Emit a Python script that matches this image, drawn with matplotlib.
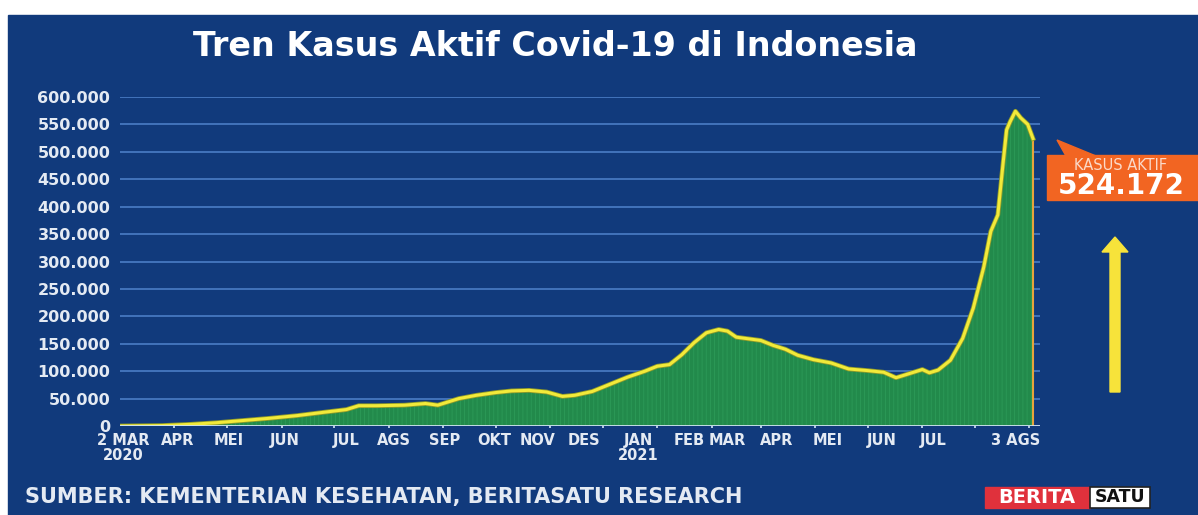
import numpy as np
import pandas as pd
import matplotlib
matplotlib.use("Agg")
import matplotlib.pyplot as plt
import matplotlib.patheffects as pe
from matplotlib.patches import Rectangle, Polygon

# active cases
dates = pd.to_datetime([
    "2020-03-02", "2020-03-25", "2020-04-10", "2020-04-25", "2020-05-10", "2020-05-25",
    "2020-06-10", "2020-06-25", "2020-07-08", "2020-07-15", "2020-07-25", "2020-08-10",
    "2020-08-22", "2020-08-29", "2020-09-10", "2020-09-20", "2020-10-01", "2020-10-10",
    "2020-10-20", "2020-10-30", "2020-11-08", "2020-11-15", "2020-11-25", "2020-12-05",
    "2020-12-15", "2020-12-25", "2021-01-01", "2021-01-08", "2021-01-15", "2021-01-22",
    "2021-01-29", "2021-02-05", "2021-02-10", "2021-02-15", "2021-02-22", "2021-03-01",
    "2021-03-08", "2021-03-15", "2021-03-22", "2021-03-31", "2021-04-10", "2021-04-20",
    "2021-05-01", "2021-05-10", "2021-05-17", "2021-05-24", "2021-06-01", "2021-06-05",
    "2021-06-10", "2021-06-17", "2021-06-24", "2021-06-30", "2021-07-06", "2021-07-10",
    "2021-07-14", "2021-07-17", "2021-07-19", "2021-07-21", "2021-07-24", "2021-07-27",
    "2021-07-31", "2021-08-03",
])
aktif = [
    0, 800, 3000, 6000, 10000, 14000,
    19000, 25000, 30000, 37000, 37000, 38000,
    41000, 38000, 50000, 56000, 61000, 64000,
    65000, 62000, 54000, 56000, 63000, 76000,
    89000, 100000, 109000, 112000, 130000, 152000,
    170000, 176000, 173000, 162000, 159000, 156000,
    147000, 140000, 129000, 121000, 115000, 104000,
    101000, 98000, 88000, 95000, 103000, 97000,
    102000, 120000, 160000, 215000, 290000, 355000,
    385000, 480000, 540000, 555000, 574000, 562000,
    550000, 524172,
]

month_starts = pd.date_range("2020-04-01", "2021-08-01", freq="MS")
label_dates = pd.to_datetime([
    "2020-03-03", "2020-04-03", "2020-05-02", "2020-06-03", "2020-07-08", "2020-08-04",
    "2020-09-02", "2020-09-30", "2020-10-25", "2020-11-20", "2020-12-21", "2021-01-19",
    "2021-02-10", "2021-03-10", "2021-04-08", "2021-05-09", "2021-06-07", "2021-07-24",
])
label_text = ["2 MAR\n2020", "APR", "MEI", "JUN", "JUL", "AGS", "SEP", "OKT", "NOV", "DES",
              "JAN\n2021", "FEB", "MAR", "APR", "MEI", "JUN", "JUL", "3 AGS"]
y_ticks = list(range(0, 600001, 50000))

BG = "#113a7c"
TXT = "#e4eaf3"
W, H = 1198, 515


def fx(px):
    return px / W


def fy(py):
    return 1 - py / H


plt.rcParams["hatch.linewidth"] = 0.6
fig = plt.figure(figsize=(W / 100, H / 100), dpi=100)
fig.patch.set_facecolor("white")
fig.add_artist(Rectangle((fx(8), 0), 1, fy(15), transform=fig.transFigure,
                         color=BG, zorder=-10))

ax = fig.add_axes([fx(120), fy(426), fx(920), 329 / H])
ax.set_facecolor("none")
for s in ax.spines.values():
    s.set_visible(False)

ax.fill_between(dates, aktif, color="#228a4b", edgecolor="#2c9a58", hatch="||||",
                linewidth=0, zorder=2)
ax.plot(dates, aktif, color="#f2ea3a", lw=2.2, zorder=4, solid_joinstyle="round",
        path_effects=[pe.Stroke(linewidth=3.4, foreground="#8f9a2a"), pe.Normal()])
ax.vlines(dates[-1], 0, aktif[-1], color="#e7a43c", lw=1.5, zorder=3)
ax.axhline(0, color="#d2e4f4", lw=2, zorder=5)

ax.set_xlim(pd.Timestamp("2020-03-01"), pd.Timestamp("2021-08-07"))
ax.set_ylim(0, 600000)
ax.set_yticks(y_ticks)
ax.set_yticklabels([f"{v:,}".replace(",", ".") for v in y_ticks])
ax.grid(axis="y", color="#4f83cc", lw=1.1, zorder=1)
ax.tick_params(axis="y", length=0, pad=7, labelsize=11.5, labelcolor=TXT)
for t in ax.get_yticklabels():
    t.set_fontweight("bold")

ax.set_xticks(month_starts)
ax.set_xticklabels([])
ax.tick_params(axis="x", which="major", length=3, width=1.2, color="#d2e4f4",
               direction="inout")
ax.set_xticks(label_dates, minor=True)
ax.set_xticklabels(label_text, minor=True, fontsize=10.5, fontweight="bold",
                   color=TXT, linespacing=1.0)
ax.tick_params(axis="x", which="minor", length=0, pad=5)

fig.text(fx(555), fy(46), "Tren Kasus Aktif Covid-19 di Indonesia", ha="center",
         va="center", fontsize=24, fontweight="heavy", color="white")
fig.text(fx(25), fy(497), "SUMBER: KEMENTERIAN KESEHATAN, BERITASATU RESEARCH",
         ha="left", va="center", fontsize=15, fontweight="bold", color=TXT)

# callout
fig.add_artist(Rectangle((fx(1047), fy(200)), fx(151), 45 / H, transform=fig.transFigure,
                         color="#f26522", zorder=5))
fig.add_artist(Polygon([(fx(1057), fy(140)), (fx(1066), fy(156)), (fx(1096), fy(156))],
                       closed=True, transform=fig.transFigure, color="#f26522", zorder=5))
fig.text(fx(1121), fy(166), "KASUS AKTIF", ha="center", va="center", fontsize=10.5,
         color="#fbd9c8", zorder=6)
fig.text(fx(1121), fy(186), "524.172", ha="center", va="center", fontsize=20,
         fontweight="bold", color="white", zorder=6)

# yellow arrow
arrow = [(1110, 392), (1110, 252), (1102, 252), (1115, 237), (1128, 252), (1120, 252),
         (1120, 392)]
fig.add_artist(Polygon([(fx(a), fy(b)) for a, b in arrow], closed=True,
                       transform=fig.transFigure, color="#f7e33a", zorder=5))

# logo
fig.add_artist(Rectangle((fx(985), fy(508)), fx(105), 21 / H, transform=fig.transFigure,
                         color="#e0313c", zorder=5))
fig.add_artist(Rectangle((fx(1090), fy(508)), fx(60), 21 / H, transform=fig.transFigure,
                         facecolor="white", edgecolor="#222222", lw=1.2, zorder=5))
fig.text(fx(1037), fy(497.5), "BERITA", ha="center", va="center", fontsize=14,
         fontweight="bold", color="white", zorder=6)
fig.text(fx(1120), fy(497.5), "SATU", ha="center", va="center", fontsize=12.5,
         fontweight="bold", color="#111111", zorder=6)

fig.savefig("out.png", dpi=100, facecolor=fig.get_facecolor())
